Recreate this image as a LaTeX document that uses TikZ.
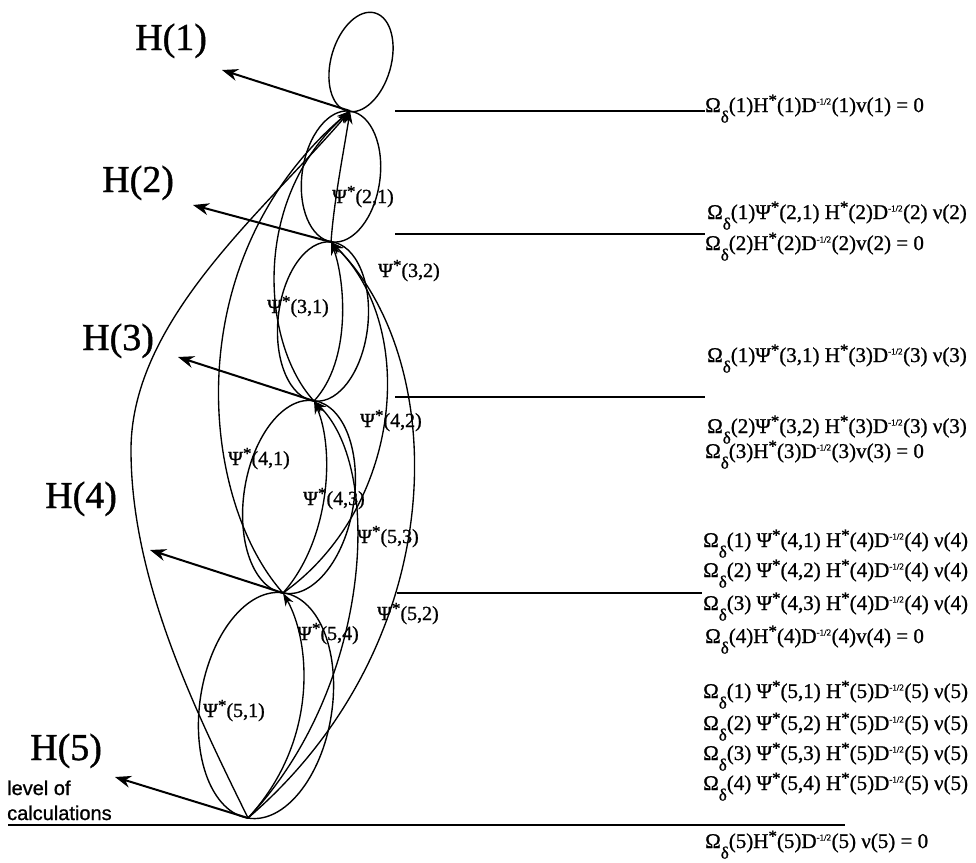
\documentclass[tikz,border=0pt]{standalone}
\usepackage{fontspec}
\setmainfont[FakeBold=1]{Liberation Serif}
\newfontfamily\sansf[FakeBold=1]{Liberation Sans}
\usetikzlibrary{arrows.meta}
\newcommand\Ast{\raisebox{0.3em}{\fontsize{17}{17}\selectfont *}}
\newcommand\Dmh{\textsuperscript{\fontsize{9}{9}\selectfont -1/2}}
\newcommand\Omd[1]{Ω\raisebox{-0.5em}{\fontsize{17}{17}\selectfont δ}(#1)}
\begin{document}
\begin{tikzpicture}[x=1pt,y=-1pt,
  ell/.style={line width=1.4pt},
  psi/.style={line width=1.35pt,-{Stealth[length=13pt,width=9pt]}},
  harr/.style={line width=2pt,-{Stealth[length=16pt,width=12pt]}},
  hline/.style={line width=1.7pt},
  hlab/.style={inner sep=0pt,anchor=base west,font=\fontsize{38}{38}\selectfont},
  plab/.style={inner sep=0pt,anchor=base west,font=\fontsize{20}{20}\selectfont},
  eq/.style={inner sep=0pt,anchor=base west,font=\fontsize{21}{21}\selectfont},
  lvl/.style={inner sep=0pt,anchor=base west,font=\sansf\fontsize{20}{20}\selectfont}]
\useasboundingbox (0,0) rectangle (976,862);

% level nodes
\coordinate (N1) at (350,111);
\coordinate (N2) at (331,242);
\coordinate (N3) at (314,401);
\coordinate (N4) at (283,593);
\coordinate (N5) at (248,818);

% ellipses
\draw[ell,rotate around={-16:(361,62)}] (361,62) ellipse [x radius=30, y radius=51];
\draw[ell,rotate around={-8:(341,176.5)}] (341,176.5) ellipse [x radius=39, y radius=66];
\draw[ell,rotate around={-6:(323,321.5)}] (323,321.5) ellipse [x radius=45, y radius=80];
\draw[ell,rotate around={-9:(299,497)}] (299,497) ellipse [x radius=55, y radius=97.5];
\draw[ell,rotate around={-9:(266,705.5)}] (266,705.5) ellipse [x radius=66, y radius=114];

% psi connectors
\draw[psi] (N2) .. controls (334,200) and (344,150) .. (N1);
\draw[psi] (N3) .. controls (262,345) and (250,200) .. (N1);
\draw[psi] (N4) .. controls (200,500) and (175,260) .. (N1);
\draw[psi] (N5) .. controls (195,710) and (131,580) .. (131,450) .. controls (131,320) and (264,211) .. (N1);
\draw[psi] (N3) .. controls (352,360) and (345,280) .. (N2);
\draw[psi] (N4) .. controls (400,510) and (420,330) .. (N2);
\draw[psi] (N5) .. controls (455,640) and (450,360) .. (N2);
\draw[psi] (N4) .. controls (330,540) and (335,450) .. (N3);
\draw[psi] (N5) .. controls (370,690) and (385,470) .. (N3);
\draw[psi] (N5) .. controls (320,740) and (310,640) .. (N4);

% H arrows
\coordinate (h1) at (222,70);
\coordinate (h2) at (193,205);
\coordinate (h3) at (178,357);
\coordinate (h4) at (150,550);
\coordinate (h5) at (115,777);
\draw[harr] (N1) -- (h1);
\draw[harr] (N2) -- (h2);
\draw[harr] (N3) -- (h3);
\draw[harr] (N4) -- (h4);
\draw[harr] (N5) -- (h5);

\node[hlab] (H1) at (135,50) {H(1)};
\node[hlab] (H2) at (102,192) {H(2)};
\node[hlab] (H3) at (82,350) {H(3)};
\node[hlab] (H4) at (45,508) {H(4)};
\node[hlab] (H5) at (30,760) {H(5)};

\node[lvl] (lv1) at (7,795) {level of};
\node[lvl] (lv2) at (7,820) {calculations};

% psi labels
\node[plab] (p21) at (332,203) {Ψ\Ast(2,1)};
\node[plab] (p32) at (378,277) {Ψ\Ast(3,2)};
\node[plab] (p31) at (267,313) {Ψ\Ast(3,1)};
\node[plab] (p42) at (360,427) {Ψ\Ast(4,2)};
\node[plab] (p41) at (228,465) {Ψ\Ast(4,1)};
\node[plab] (p43) at (303,505) {Ψ\Ast(4,3)};
\node[plab] (p53) at (357,543) {Ψ\Ast(5,3)};
\node[plab] (p52) at (377,620) {Ψ\Ast(5,2)};
\node[plab] (p54) at (297,640) {Ψ\Ast(5,4)};
\node[plab] (p51) at (203,717) {Ψ\Ast(5,1)};

% horizontal level lines
\coordinate (a1) at (395,111); \coordinate (b1) at (705,111);
\coordinate (a2) at (395,234); \coordinate (b2) at (705,234);
\coordinate (a3) at (395,397); \coordinate (b3) at (705,397);
\coordinate (a4) at (397,593); \coordinate (b4) at (702,593);
\coordinate (a5) at (8,825);   \coordinate (b5) at (845,825);
\draw[hline] (a1) -- (b1);
\draw[hline] (a2) -- (b2);
\draw[hline] (a3) -- (b3);
\draw[hline] (a4) -- (b4);
\draw[hline] (a5) -- (b5);

% equations
\node[eq] (eA) at (705,112) {\Omd{1}H\Ast(1)D\Dmh(1)v(1) = 0};
\node[eq] (eB) at (707,219) {\Omd{1}Ψ\Ast(2,1) H\Ast(2)D\Dmh(2) ν(2)};
\node[eq] (eC) at (705,250) {\Omd{2}H\Ast(2)D\Dmh(2)v(2) = 0};
\node[eq] (eD) at (707,362) {\Omd{1}Ψ\Ast(3,1) H\Ast(3)D\Dmh(3) ν(3)};
\node[eq] (eE) at (707,433) {\Omd{2}Ψ\Ast(3,2) H\Ast(3)D\Dmh(3) ν(3)};
\node[eq] (eF) at (705,458) {\Omd{3}H\Ast(3)D\Dmh(3)v(3) = 0};
\node[eq] (eG) at (703,547) {\Omd{1} Ψ\Ast(4,1) H\Ast(4)D\Dmh(4) ν(4)};
\node[eq] (eH) at (703,577) {\Omd{2} Ψ\Ast(4,2) H\Ast(4)D\Dmh(4) ν(4)};
\node[eq] (eI) at (703,610) {\Omd{3} Ψ\Ast(4,3) H\Ast(4)D\Dmh(4) ν(4)};
\node[eq] (eJ) at (705,643) {\Omd{4}H\Ast(4)D\Dmh(4)v(4) = 0};
\node[eq] (eK) at (703,698) {\Omd{1} Ψ\Ast(5,1) H\Ast(5)D\Dmh(5) ν(5)};
\node[eq] (eL) at (703,730) {\Omd{2} Ψ\Ast(5,2) H\Ast(5)D\Dmh(5) ν(5)};
\node[eq] (eM) at (703,760) {\Omd{3} Ψ\Ast(5,3) H\Ast(5)D\Dmh(5) ν(5)};
\node[eq] (eN) at (703,790) {\Omd{4} Ψ\Ast(5,4) H\Ast(5)D\Dmh(5) ν(5)};
\node[eq] (eO) at (705,848) {\Omd{5}H\Ast(5)D\Dmh(5) ν(5) = 0};
\end{tikzpicture}
\end{document}
